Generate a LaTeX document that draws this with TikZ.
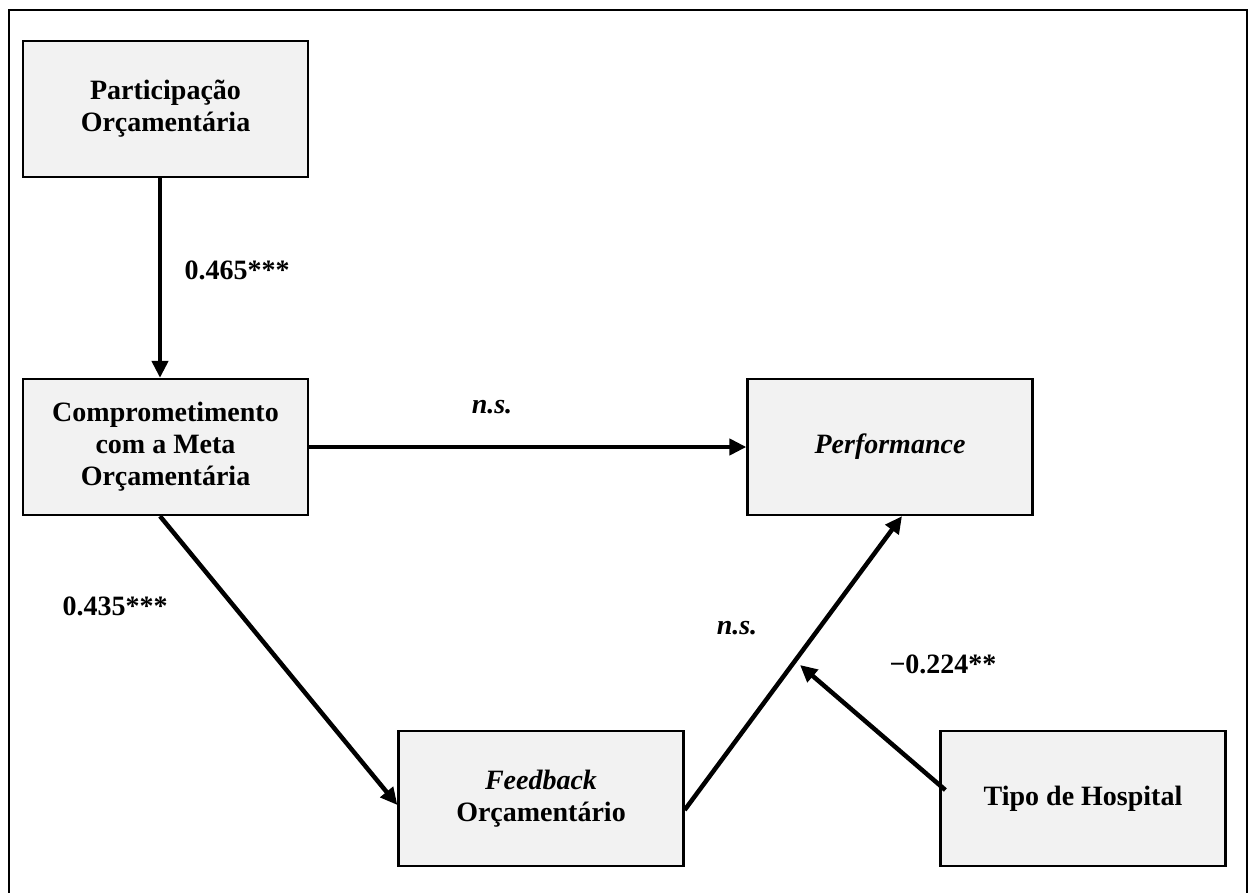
\documentclass[tikz,border=0pt]{standalone}
\usepackage{fontspec}
\setmainfont{Liberation Serif}
\usetikzlibrary{arrows.meta}
\definecolor{boxfill}{HTML}{F2F2F2}
\begin{document}
\begin{tikzpicture}[x=1pt,y=-1pt,
  varbox/.style={draw=black,line width=2.3pt,fill=boxfill,minimum width=285pt,minimum height=136pt,
    align=center,inner sep=0pt,font=\fontsize{28}{32}\selectfont\bfseries},
  link/.style={line width=4.5pt,-{Triangle[length=17pt,width=16pt]}},
  lbl/.style={font=\fontsize{28}{32}\selectfont\bfseries,inner sep=0pt}]
\useasboundingbox (0,0) rectangle (1249,893);
\draw[line width=2pt] (9,900) -- (9,10) -- (1247,10) -- (1247,900);
\node[varbox] (part) at (165.5,109) {Participação\\Orçamentária};
\node[varbox] (comp) at (165.5,447) {Comprometimento\\com a Meta\\Orçamentária};
\node[varbox] (perf) at (890,447) {\itshape Performance};
\node[varbox,minimum height=135pt] (feed) at (541,798.5) {\itshape Feedback\\Orçamentário};
\node[varbox,minimum height=135pt] (tipo) at (1083,798.5) {Tipo de Hospital};
\coordinate (a4s) at ([yshift=-11.5pt]feed.east);
\coordinate (a4e) at ([xshift=12pt]perf.south);
\coordinate (mid) at (800,665);
\coordinate (a5s) at ([xshift=6pt,yshift=8.5pt]tipo.west);
\draw[link] ([xshift=-5.5pt]part.south) -- ([xshift=-5.5pt]comp.north);
\draw[link] (comp.east) -- (perf.west);
\draw[link] ([xshift=-5.5pt]comp.south) -- ([yshift=-6.5pt]feed.west);
\draw[link] (a4s) -- (a4e);
\draw[link] (a5s) -- (mid);
\node[lbl] (l1) at (237,270) {0.465***};
\node[lbl] (l2) at (492,407) {\itshape n.s.};
\node[lbl] (l3) at (115,606) {0.435***};
\node[lbl] (l4) at (737,628) {\itshape n.s.};
\node[lbl] (l5) at (943,664) {−0.224**};
\end{tikzpicture}
\end{document}
